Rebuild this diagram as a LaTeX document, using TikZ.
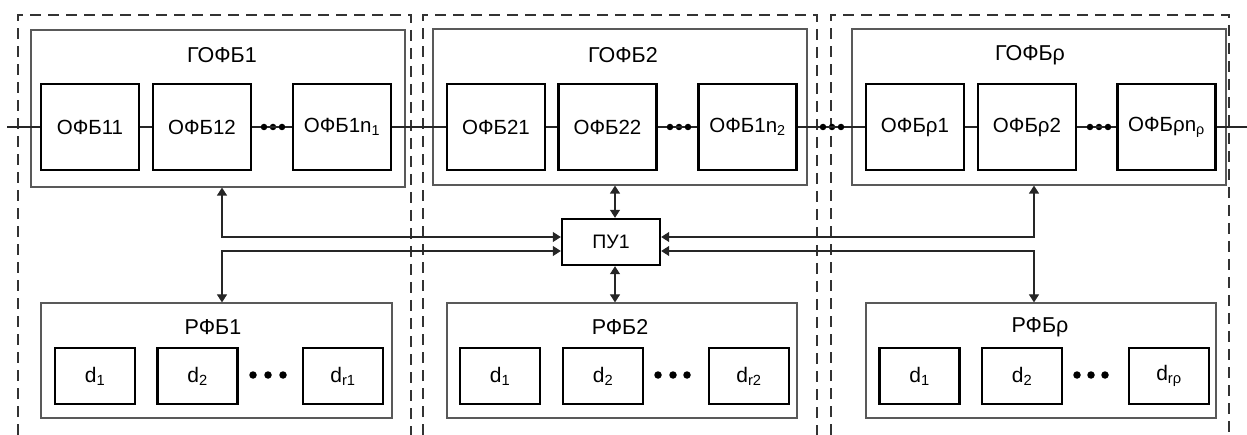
\documentclass[tikz,border=0pt]{standalone}
\usepackage{fontspec}
\setmainfont{Liberation Sans}
\usetikzlibrary{arrows.meta}
\begin{document}
\begin{tikzpicture}[x=1pt,y=-1pt,
  outer/.style={draw=black!65,line width=1.2pt,inner sep=0pt,rectangle},
  inner/.style={draw=black,line width=2.4pt,inner sep=0pt,minimum width=98pt,minimum height=86pt,font=\fontsize{20.5}{24}\selectfont},
  dbox/.style={draw=black,line width=2.4pt,inner sep=0pt,minimum width=80pt,minimum height=56pt,font=\fontsize{21}{24}\selectfont},
  title/.style={inner sep=0pt,font=\fontsize{21.5}{25}\selectfont},
  dot/.style={circle,fill=black,inner sep=0pt,minimum size=6.5pt},
  bigdot/.style={circle,fill=black,inner sep=0pt,minimum size=7.5pt},
  grp/.style={draw=black!80,line width=1.5pt,dash pattern=on 11pt off 7pt},
  wire/.style={draw=black!85,line width=1.2pt},
  biarr/.style={wire,{Triangle[length=8pt,width=10pt]}-{Triangle[length=8pt,width=10pt]}}
]
\useasboundingbox (0,0) rectangle (1247,435);
% dashed group frames
\draw[grp] (18,435) -- (18,15) -- (411,15) -- (411,435);
\draw[grp] (423,435) -- (423,15) -- (817,15) -- (817,435);
\draw[grp] (831,435) -- (831,15) -- (1229,15) -- (1229,435);
% outer blocks
\node[outer,minimum width=374pt,minimum height=157pt] (g1) at (218,108.5) {};
\node[outer,minimum width=374pt,minimum height=156pt] (g2) at (620,107) {};
\node[outer,minimum width=374pt,minimum height=156pt] (g3) at (1039,107) {};
\node[title] (tg1) at (222,55) {ГОФБ1};
\node[title] (tg2) at (623,55) {ГОФБ2};
\node[title] (tg3) at (1030,55) {ГОФБρ};
% inner blocks
\node[inner] (a11) at (90,127) {ОФБ11};
\node[inner] (a12) at (202,127) {ОФБ12};
\node[inner] (a1n) at (342,127) {ОФБ1n\textsubscript{1}};
\node[inner] (a21) at (496,127) {ОФБ21};
\node[inner] (a22) at (607.5,127) {ОФБ22};
\node[inner] (a2n) at (747.5,127) {ОФБ1n\textsubscript{2}};
\node[inner] (a31) at (915,127) {ОФБρ1};
\node[inner] (a32) at (1027,127) {ОФБρ2};
\node[inner] (a3n) at (1166.5,127) {ОФБρn\textsubscript{ρ}};
% dots in chains
\node[dot] (p11) at (264,127) {};
\node[dot] (p12) at (273,127) {};
\node[dot] (p13) at (282,127) {};
\node[dot] (p21) at (670,127) {};
\node[dot] (p22) at (679,127) {};
\node[dot] (p23) at (688,127) {};
\node[dot] (p31) at (823,127) {};
\node[dot] (p32) at (832,127) {};
\node[dot] (p33) at (841,127) {};
\node[dot] (p41) at (1090,127) {};
\node[dot] (p42) at (1099,127) {};
\node[dot] (p43) at (1108,127) {};
\coordinate (in) at (7,127);
\coordinate (out) at (1247,127);
% signal chain
\draw[wire] (in) -- (a11.west);
\draw[wire] (a11) -- (a12);
\draw[wire] (a12.east) -- (p11) -- (p13) -- (a1n.west);
\draw[wire] (a1n) -- (a21);
\draw[wire] (a21) -- (a22);
\draw[wire] (a22.east) -- (p21) -- (p23) -- (a2n.west);
\draw[wire] (a2n.east) -- (p31) -- (p33) -- (a31.west);
\draw[wire] (a31) -- (a32);
\draw[wire] (a32.east) -- (p41) -- (p43) -- (a3n.west);
\draw[wire] (a3n.east) -- (out);
% control unit
\node[draw=black,line width=2.4pt,inner sep=0pt,minimum width=98pt,minimum height=46pt,font=\fontsize{19.5}{23}\selectfont] (pu) at (611,242) {ПУ1};
% lower blocks
\node[outer,minimum width=351pt,minimum height=115pt] (r1) at (216.5,360.5) {};
\node[outer,minimum width=350pt,minimum height=115pt] (r2) at (622,360.5) {};
\node[outer,minimum width=350pt,minimum height=115pt] (r3) at (1041,360.5) {};
\node[title] (tr1) at (213,327) {РФБ1};
\node[title] (tr2) at (620,327) {РФБ2};
\node[title] (tr3) at (1040,327) {РФБρ};
\node[dbox] (d11) at (95,376) {d\textsubscript{1}};
\node[dbox] (d12) at (197.5,376) {d\textsubscript{2}};
\node[dbox] (d1n) at (343,376) {d\textsubscript{r1}};
\node[dbox] (d21) at (500,376) {d\textsubscript{1}};
\node[dbox] (d22) at (603,376) {d\textsubscript{2}};
\node[dbox] (d2n) at (749,376) {d\textsubscript{r2}};
\node[dbox] (d31) at (919.5,376) {d\textsubscript{1}};
\node[dbox] (d32) at (1022,376) {d\textsubscript{2}};
\node[dbox] (d3n) at (1169,376) {d\textsubscript{rρ}};
\node[bigdot] (q11) at (253,375) {};
\node[bigdot] (q12) at (268,375) {};
\node[bigdot] (q13) at (283,375) {};
\node[bigdot] (q21) at (658,375) {};
\node[bigdot] (q22) at (673,375) {};
\node[bigdot] (q23) at (687,375) {};
\node[bigdot] (q31) at (1077,375) {};
\node[bigdot] (q32) at (1091,375) {};
\node[bigdot] (q33) at (1105,375) {};
% control connections
\coordinate (kL1) at (222,237);
\coordinate (kL2) at (222,251);
\coordinate (kR1) at (1034,237);
\coordinate (kR2) at (1034,251);
\coordinate (kM) at (615,0);
\draw[biarr] (g1.south -| kL1) -- (kL1) -- (pu.west |- kL1);
\draw[biarr] (pu.west |- kL2) -- (kL2) -- (r1.north -| kL2);
\draw[biarr] (pu.east |- kR1) -- (kR1) -- (g3.south -| kR1);
\draw[biarr] (pu.east |- kR2) -- (kR2) -- (r3.north -| kR2);
\draw[biarr] (g2.south -| kM) -- (pu.north -| kM);
\draw[biarr] (pu.south -| kM) -- (r2.north -| kM);
\end{tikzpicture}
\end{document}
